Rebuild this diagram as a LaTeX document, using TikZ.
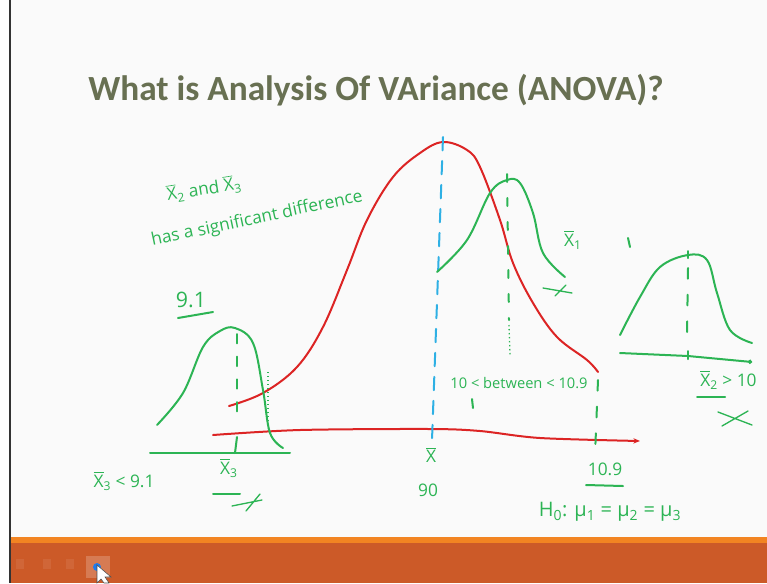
\documentclass[tikz,border=0pt]{standalone}
\usepackage{amsmath}
\usepackage{fontspec}
\setmainfont{Carlito}
\newfontfamily\handfont{Open Sans}
\usepackage{tikz}
\usetikzlibrary{arrows.meta}
\definecolor{SlideBg}{RGB}{250, 250, 250}
\definecolor{TitleOlive}{RGB}{104, 112, 82}
\definecolor{PenGreen}{RGB}{44, 180, 84}
\definecolor{PenRed}{RGB}{220, 36, 36}
\definecolor{PenCyan}{RGB}{46, 176, 228}
\definecolor{BarOrange}{RGB}{204, 90, 40}
\definecolor{BarEdge}{RGB}{242, 132, 34}
\newcommand{\sampmean}[1]{\ensuremath{\overline{\text{X}}_{\text{#1}}}}
\tikzset{
  pen/.style={line width=1.5pt, line cap=round, line join=round},
  greenpen/.style={pen, PenGreen},
  redpen/.style={pen, PenRed},
  note/.style={text=PenGreen, inner sep=0pt, font=\handfont\fontsize{13}{14}\selectfont},
  bignote/.style={note, font=\handfont\fontsize{16}{18}\selectfont},
  smallnote/.style={note, font=\handfont\fontsize{11}{12}\selectfont},
}

\begin{document}
\begin{tikzpicture}[x=0.75pt,y=-0.75pt]
  \path[use as bounding box] (0,0) rectangle (767,583);
  \fill[white] (0,0) rectangle (767,583);
  \fill[SlideBg] (10,0) rectangle (767,540);
  \draw[black!80, line width=1.2pt] (10,0) -- (10,583);
  % bottom bar
  \fill[BarOrange] (11,540) rectangle (767,583);
  \fill[BarEdge] (11,537) rectangle (767,543);
  \foreach \x in {20,47,70}{
    \fill[white, opacity=0.08] (\x-4,559) rectangle (\x+4,569);
  }
  \fill[white, opacity=0.2] (86,556) rectangle (110,578);
  \fill[PenCyan!70!blue] (97,567) circle (4);
  \filldraw[fill=white, draw=black!70, line width=0.4pt] (97,565) -- (97,583) -- (101,579) -- (104,583) -- (109,583) -- (105,577) -- (111,577) -- cycle;

  \node[text=TitleOlive, anchor=base west, inner sep=0pt,
        font=\bfseries\fontsize{26.5}{30}\selectfont] (title) at (88,100)
        {What is Analysis Of VAriance (ANOVA)?};

  % big red curve and its axis
  \draw[redpen] plot[smooth, tension=0.6] coordinates {(229,406) (263,393) (297,367) (323,327) (347,270) (367,220) (393,177) (420,153) (443,142) (467,150) (480,167) (500,220) (513,263) (533,303) (557,337) (587,360) (598,372)};
  \draw[redpen, -{Stealth[length=5pt,width=4pt]}] plot[smooth, tension=0.5] coordinates {(213,435) (300,430) (430,429) (480,431) (540,438) (640,441)};
  \draw[PenCyan, pen, dash pattern=on 10pt off 8pt] (443,137) -- (432,440);

  % left curve
  \draw[greenpen] plot[smooth, tension=0.6] coordinates {(157,425) (183,393) (203,347) (220,331) (235,328) (253,343) (263,390) (270,433) (283,448)};
  \draw[greenpen] (150,453) -- (290,453);
  \draw[greenpen, dash pattern=on 7pt off 10pt] (237,334) -- (237,422);
  \draw[greenpen] (237,437) -- (235,453);
  \draw[PenGreen, line width=1pt, dotted] (268,372) -- (268,428);

  % middle curve
  \draw[greenpen] plot[smooth, tension=0.6] coordinates {(437,272) (467,240) (490,193) (507,180) (520,183) (533,213) (543,253) (565,277)};
  \draw[greenpen, dash pattern=on 6pt off 12pt] (507,174) -- (509,320);
  \draw[PenGreen, line width=1pt, dotted] (509,325) -- (510,355);

  % right curve
  \draw[greenpen] plot[smooth, tension=0.6] coordinates {(620,335) (640,297) (660,267) (688,255) (707,260) (717,293) (730,330) (752,343)};
  \draw[greenpen, -{Circle[length=3pt]}] (620,353) -- (688,356) -- (752,362);
  \draw[greenpen] (688,251) -- (688,258);
  \draw[greenpen] (688,351) -- (688,359);
  \draw[greenpen, dash pattern=on 8pt off 12pt] (688,268) -- (687,335);
  \draw[greenpen] (628,238) -- (630,247);

  % upper bound
  \draw[greenpen, dash pattern=on 8pt off 12pt] (598,380) -- (595,455);

  % labels
  \node[note, rotate=9] (pairnote) at (204,189) {\sampmean{2} and \sampmean{3}};
  \node[note, rotate=12] (diffnote) at (257,219) {has a significant difference};
  \node[bignote] (lowmean) at (191,300) {9.1};
  \draw[greenpen] (178,318) -- (213,312);
  \node[note] (lowrule) at (124,481) {\sampmean{3} < 9.1};
  \node[note] (xthree) at (229,468) {\sampmean{3}};
  \draw[greenpen] (213,494) -- (240,494);
  \draw[greenpen, line width=1pt] (232,506) -- (262,500) (246,511) -- (260,494);
  \node[note] (xone) at (573,240) {\sampmean{1}};
  \draw[greenpen, line width=1pt] (543,288) -- (572,293) (555,296) -- (566,285);
  \node[smallnote] (between) at (519,383) {10 < between < 10.9};
  \draw[greenpen] (472,399) -- (473,408);
  \node[note] (upper) at (605,469) {10.9};
  \draw[greenpen] (586,485) -- (623,486);
  \node[note] (grandmean) at (431,455) {\ensuremath{\overline{\text{X}}}};
  \node[note] (grandval) at (428,490) {90};
  \node[note, font=\handfont\fontsize{15}{17}\selectfont] (hypothesis) at (610,512) {H\textsubscript{0}: μ\textsubscript{1} = μ\textsubscript{2} = μ\textsubscript{3}};
  \node[note, anchor=west] (xtwo) at (700,380) {\sampmean{2} > 10};
  \draw[greenpen] (697,397) -- (725,397);
  \draw[greenpen, line width=1pt] (718,412) -- (752,425) (722,426) -- (748,411);
\end{tikzpicture}
\end{document}
